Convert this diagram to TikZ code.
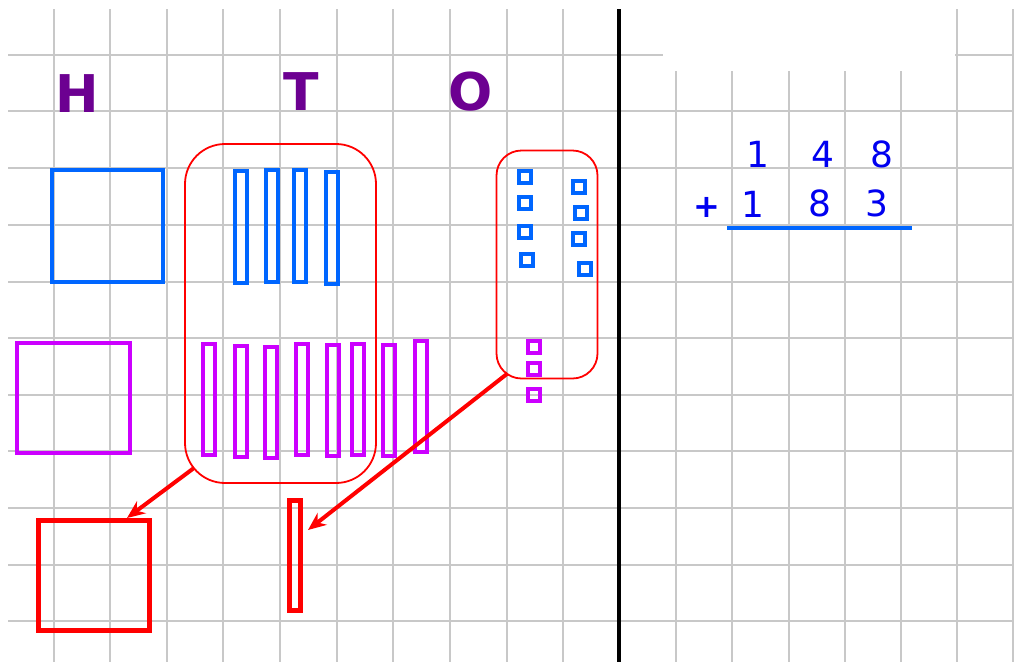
\documentclass[tikz,border=0pt]{standalone}
\usepackage{fontspec}
\setmainfont{DejaVu Sans}
\usetikzlibrary{arrows.meta,calc}
\definecolor{gridgray}{RGB}{200,200,200}
\definecolor{rodblue}{RGB}{0,102,255}
\definecolor{rodmag}{RGB}{204,0,255}
\definecolor{lettpurple}{RGB}{108,0,145}
\definecolor{digblue}{RGB}{0,0,240}
\definecolor{myred}{RGB}{255,0,0}
\begin{document}
\begin{tikzpicture}[x=1pt,y=-1pt,
  gridline/.style={draw=gridgray,line width=1.4pt},
  bluebox/.style={draw=rodblue,line width=4pt,inner sep=0pt,outer sep=2pt,rectangle},
  magbox/.style={draw=rodmag,line width=4pt,inner sep=0pt,outer sep=2pt,rectangle},
  redbox/.style={draw=myred,line width=5pt,inner sep=0pt,outer sep=2.5pt,rectangle},
  group/.style={draw=myred,line width=1.8pt,inner sep=0pt,outer sep=0.9pt,rectangle},
  placelabel/.style={text=lettpurple,font=\fontsize{52}{52}\selectfont\bfseries,inner sep=0pt},
  digit/.style={text=digblue,font=\fontsize{36}{36}\selectfont,inner sep=0pt},
  redarrow/.style={draw=myred,line width=4pt,-{Stealth[length=18pt,width=15pt]}},
  rod/.style={minimum width=12,minimum height=112},
  mrod/.style={minimum width=12,minimum height=111},
  unit/.style={minimum width=12,minimum height=12},
  munit/.style={minimum width=12,minimum height=12}
]
\useasboundingbox (0,0) rectangle (1014,662);
\fill[white] (0,0) rectangle (1014,662);
% grid
\foreach \x in {54,110,167,223,280,337,393,450,507,563,676,732,789,845,901,957,1013}
  \draw[gridline] (\x,9) -- (\x,662);
\foreach \y in {55,111,168,225,282,338,395,451,508,565,621}
  \draw[gridline] (8,\y) -- (1014,\y);
\fill[white] (663,0) rectangle (955.4,71);
% divider
\draw[black,line width=4pt] (619,9) -- (619,662);

% place labels
\node[placelabel] (H) at (77,94) {H};
\node[placelabel] (T) at (301,92) {T};
\node[placelabel] (O) at (471,92) {O};

% hundreds
\node[bluebox,minimum width=111,minimum height=112] (hb) at (107.5,226) {};
\node[magbox,minimum width=113,minimum height=110] (hm) at (73.5,398) {};

% tens group
\node[group,rounded corners=40pt,minimum width=191,minimum height=339] (tens) at (280.5,313.5) {};
\node[bluebox,rod] (b1) at (241,227) {};
\node[bluebox,rod] (b2) at (272,225.5) {};
\node[bluebox,rod] (b3) at (300,226) {};
\node[bluebox,rod] (b4) at (332,228) {};
\node[magbox,mrod] (m1) at (209,399.5) {};
\node[magbox,mrod] (m2) at (241,401) {};
\node[magbox,mrod] (m3) at (271,402) {};
\node[magbox,mrod] (m4) at (302,399) {};
\node[magbox,mrod] (m5) at (333,400.5) {};
\node[magbox,mrod] (m6) at (357.5,399) {};
\node[magbox,mrod] (m7) at (388.5,400.5) {};
\node[magbox,mrod] (m8) at (420.5,396) {};

% ones group
\node[group,rounded corners=25pt,minimum width=101,minimum height=228] (ones) at (547,264.5) {};
\node[bluebox,unit] (u1) at (525,177) {};
\node[bluebox,unit] (u2) at (525,203) {};
\node[bluebox,unit] (u3) at (525,232) {};
\node[bluebox,unit] (u4) at (526.5,260) {};
\node[bluebox,unit] (u5) at (579,187) {};
\node[bluebox,unit] (u6) at (581,213) {};
\node[bluebox,unit] (u7) at (579,239) {};
\node[bluebox,unit] (u8) at (585,269) {};
\node[magbox,munit] (v1) at (534,347) {};
\node[magbox,munit] (v2) at (534,369) {};
\node[magbox,munit] (v3) at (534,394.5) {};

% regrouped results
\node[redbox,minimum width=111,minimum height=110] (bigsq) at (94,575.5) {};
\node[redbox,minimum width=11,minimum height=110] (redrod) at (295,555.5) {};

% arrows
\draw[redarrow] ($(tens.south west)+(10,-16)$) -- ($(bigsq.north)+(33,0)$);
\draw[redarrow] ($(ones.south west)+(12,-6)$) -- ($(redrod.east)+(5,-25.5)$);

% column addition
\node[digit] (a1) at (758,154) {1};
\node[digit] (a2) at (823,154) {4};
\node[digit] (a3) at (882,154) {8};
\node[digit,font=\fontsize{32}{32}\selectfont\bfseries] (plus) at (707,207) {+};
\node[digit] (c1) at (753,204) {1};
\node[digit] (c2) at (820,203) {8};
\node[digit] (c3) at (877,203) {3};
\draw[draw=rodblue,line width=3.5pt] (727,228) -- (912,228);
\end{tikzpicture}
\end{document}
